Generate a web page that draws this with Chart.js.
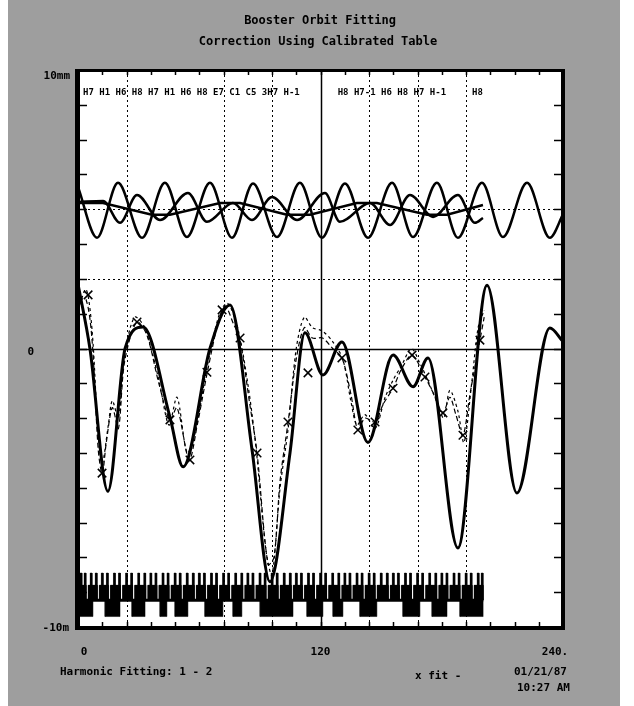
<!DOCTYPE html>
<html>
<head>
<meta charset="utf-8">
<script src="https://cdn.jsdelivr.net/npm/chart.js@4.4.0/dist/chart.umd.min.js"></script>
<style>
  html, body { margin: 0; padding: 0; background: #fff; }
  #bg { position: absolute; left: 8px; top: 0; width: 612px; height: 706px; background: #9e9e9e; }
  #orbit { position: absolute; left: 0; top: 0; }
</style>
</head>
<body>
<div id="bg"></div>
<canvas id="orbit" width="634" height="706"></canvas>
<script>
// fitted orbit (solid, thick)
const fitX = [0, 5.9, 14.8, 23.3, 32.2, 45.5, 52, 65.3, 75.2, 86.1, 95, 104.9, 112.3, 121.2, 130.6, 143.5, 155.9, 165.8, 173.2, 188, 202.4, 217.2, 233.5, 240];
const fitY = [1.85, 0, -4.1, 0, 0.62, -1.97, -3.4, 0, 1.25, -2.9, -6.7, -3.0, 0.45, -0.76, 0.19, -2.7, -0.19, -1.1, -0.27, -5.73, 1.82, -4.15, 0.59, 0.2];

// measured orbit, two dashed traces
const measAX = [0, 4, 7, 10, 12, 14, 17, 20, 23, 29, 34, 40, 45.5, 49, 55, 59, 64, 70, 73, 77, 80, 85, 88.6, 94, 97, 100, 104, 108, 112, 116, 121, 126, 130.6, 135, 138.5, 142, 147, 151, 155.9, 160, 165.3, 171.7, 176, 180.6, 184, 187, 190.5, 194, 198.9, 201];
const measAY = [1.4, 1.4, 0.2, -2.9, -3.6, -2.7, -1.7, -2.3, -0.4, 0.76, 0.4, -1.0, -2.05, -1.7, -3.2, -2.2, -0.68, 0.9, 1.2, 0.7, 0.3, -1.6, -3.0, -6.2, -6.0, -3.8, -2.1, -0.3, 0.6, 0.3, 0.3, 0.0, -0.27, -1.3, -2.34, -2.0, -2.11, -1.6, -1.14, -0.6, -0.19, -0.82, -1.3, -1.85, -1.4, -1.9, -2.49, -1.3, 0.24, 0.9];
const measBX = [0, 4, 7, 10, 12, 15, 17, 20, 23, 28, 33, 40, 45, 49, 54, 58, 64, 70, 74, 79, 84, 88, 93, 96, 100, 104, 108, 112, 116, 121, 126, 131, 135, 138, 142, 147, 152, 156, 160, 165, 169, 173, 178, 181, 184, 188, 191, 195, 198, 201];
const measBY = [1.1, 1.7, 0.5, -2.5, -3.3, -2.2, -1.5, -2.0, -0.2, 0.9, 0.6, -0.9, -2.2, -1.4, -3.0, -2.4, -0.5, 1.0, 1.3, 0.6, -1.0, -2.8, -5.8, -6.5, -4.0, -2.3, 0.0, 0.9, 0.6, 0.5, 0.2, -0.3, -1.5, -2.2, -1.9, -2.3, -1.4, -0.9, -0.5, 0.0, -0.4, -0.9, -1.6, -2.0, -1.2, -1.8, -2.7, -0.9, 0.6, 1.1];

// x markers (monitor readings)
const bpmX = [5.0, 11.9, 29.2, 45.5, 55.4, 63.8, 71.3, 80.2, 88.6, 103.9, 113.8, 130.6, 138.5, 147.0, 155.9, 165.3, 171.7, 180.6, 190.5, 198.9];
const bpmY = [1.54, -3.58, 0.76, -2.05, -3.2, -0.68, 1.11, 0.30, -3.0, -2.11, -0.70, -0.27, -2.34, -2.11, -1.14, -0.19, -0.82, -1.85, -2.49, 0.24];

// upper panel: large sine, small sine, step trace
const sinAX = [0, 9.4, 19.8, 31.7, 43, 53.9, 65.3, 76.2, 86.6, 98.5, 109.8, 120.7, 132.1, 143.5, 155.4, 165.8, 177.6, 188, 199.9, 210.3, 222.2, 233.5, 240];
const sinAY = [4.64, 3.18, 4.76, 3.18, 4.76, 3.2, 4.76, 3.18, 4.74, 3.2, 4.76, 3.18, 4.74, 3.18, 4.76, 3.2, 4.76, 3.18, 4.76, 3.2, 4.76, 3.18, 3.85];
const sinBX = [0, 12.4, 20.8, 29.2, 40.6, 54.4, 63.8, 76.7, 86.1, 96, 108.4, 122.2, 129.6, 144.5, 154.4, 164.3, 175.7, 188, 196.4, 200.4];
const sinBY = [4.21, 4.24, 3.61, 4.41, 3.69, 4.47, 3.64, 4.18, 3.69, 4.35, 3.69, 4.47, 3.64, 4.18, 3.55, 4.41, 3.78, 4.41, 3.61, 3.75];
const stepX = [0, 12.4, 36.6, 45.5, 70.3, 80.2, 103.4, 114.8, 138.0, 147.9, 172.7, 182.6, 200.4];
const stepY = [4.18, 4.18, 3.84, 3.84, 4.18, 4.18, 3.84, 3.84, 4.18, 4.18, 3.84, 3.84, 4.12];

// lattice strip: [start, end, level]
const latBase = -7.23;
const latUpper = [[0.5, 4, -6.8], [5, 9.5, -6.8], [10.5, 15, -6.8], [16, 21, -6.8], [22, 27, -6.8], [28, 33.5, -6.8], [34.5, 39, -6.8], [40, 45, -6.8], [46, 51, -6.8], [52, 57.5, -6.8], [58.5, 63, -6.8], [64, 69, -6.8], [70, 75, -6.8], [76, 81.5, -6.8], [82.5, 87, -6.8], [88, 93, -6.8], [94, 99, -6.8], [100, 105.5, -6.8], [106.5, 111, -6.8], [112, 117, -6.8], [118, 123, -6.8], [124, 129.5, -6.8], [130.5, 135, -6.8], [136, 141, -6.8], [142, 147, -6.8], [148, 153.5, -6.8], [154.5, 159, -6.8], [160, 165, -6.8], [166, 171, -6.8], [172, 177.5, -6.8], [178.5, 183, -6.8], [184, 189, -6.8], [190, 195, -6.8], [196, 200.5, -6.8]];
const latSpikes = [1.5, 3.5, 6.5, 9, 12, 14.5, 18, 20.5, 24, 26.5, 30, 33, 36, 38.5, 42, 44.5, 48, 50.5, 54, 57, 60, 62.5, 66, 68.5, 72, 74.5, 78, 81, 84, 86.5, 90, 92.5, 96, 98.5, 102, 105, 108, 110.5, 114, 116.5, 120, 122.5, 126, 129, 132, 134.5, 138, 140.5, 144, 146.5, 150, 153, 156, 158.5, 162, 164.5, 168, 170.5, 174, 177, 180, 182.5, 186, 188.5, 192, 194.5, 198, 200];
const latLower = [[0.5, 7.4, -7.7], [13.4, 20.8, -7.7], [26.7, 33.2, -7.7], [40.6, 44, -7.7], [48, 54.4, -7.7], [62.8, 71.7, -7.7], [76.7, 81.1, -7.7], [90.1, 106.4, -7.7], [113.3, 121.2, -7.7], [126.2, 131.1, -7.7], [139.5, 147.9, -7.7], [160.8, 169.2, -7.7], [175.2, 182.6, -7.7], [189, 200.5, -7.7]];

// grid
const gridX = [24, 72, 96, 144, 168, 192];
const gridY = [2, 4];
const xTickLabels = [[0, '0'], [120, '120'], [240, '240.']];

const pts = (xs, ys) => xs.map((x, i) => ({x: x, y: ys[i]}));

function blocks(list, base) {
    const out = [];
    list.forEach(b => {
        out.push({x: b[0], y: base}, {x: b[0], y: b[2]}, {x: b[1], y: b[2]}, {x: b[1], y: base}, {x: b[1], y: null});
    });
    return out;
}

const upperAll = latUpper.concat(latSpikes.map(s => [s - 0.45, s + 0.45, -6.45]));

const framePlugin = {
    id: 'frame',
    beforeDatasetsDraw(chart) {
        const {ctx, chartArea: a, scales: {x, y}} = chart;
        ctx.save();
        ctx.fillStyle = '#fff';
        ctx.fillRect(a.left, a.top, a.right - a.left, a.bottom - a.top);
        ctx.strokeStyle = '#000';
        ctx.lineWidth = 1;
        ctx.setLineDash([2, 3]);
        gridX.forEach(v => {
            const px = Math.round(x.getPixelForValue(v)) + 0.5;
            ctx.beginPath(); ctx.moveTo(px, a.top); ctx.lineTo(px, a.bottom); ctx.stroke();
        });
        gridY.forEach(v => {
            const py = Math.round(y.getPixelForValue(v)) + 0.5;
            ctx.beginPath(); ctx.moveTo(a.left, py); ctx.lineTo(a.right, py); ctx.stroke();
        });
        ctx.setLineDash([]);
        ctx.lineWidth = 1.5;
        const cx = Math.round(x.getPixelForValue(120)) + 0.5;
        ctx.beginPath(); ctx.moveTo(cx, a.top); ctx.lineTo(cx, a.bottom); ctx.stroke();
        const cy = Math.round(y.getPixelForValue(0)) + 0.5;
        ctx.beginPath(); ctx.moveTo(a.left, cy); ctx.lineTo(a.right, cy); ctx.stroke();
        // side ticks
        ctx.lineWidth = 1.5;
        for (let v = -7; v <= 7; v++) {
            const py = Math.round(y.getPixelForValue(v)) + 0.5;
            ctx.beginPath(); ctx.moveTo(a.left, py); ctx.lineTo(a.left + 9, py); ctx.stroke();
            ctx.beginPath(); ctx.moveTo(a.right - 9, py); ctx.lineTo(a.right, py); ctx.stroke();
        }
        for (let v = 12; v < 240; v += 12) {
            const px = Math.round(x.getPixelForValue(v)) + 0.5;
            ctx.beginPath(); ctx.moveTo(px, a.bottom); ctx.lineTo(px, a.bottom - 5); ctx.stroke();
            ctx.beginPath(); ctx.moveTo(px, a.top); ctx.lineTo(px, a.top + 5); ctx.stroke();
        }
        // monitor names
        ctx.fillStyle = '#000';
        ctx.font = 'bold 9px "DejaVu Sans Mono"';
        ctx.textBaseline = 'middle';
        ctx.fillText('H7 H1 H6 H8 H7 H1 H6 H8 E7 C1 C5 3H7 H-1', x.getPixelForValue(2.5), 93);
        ctx.fillText('H8 H7-1 H6 H8 H7 H-1', x.getPixelForValue(128.5), 93);
        ctx.fillText('H8', x.getPixelForValue(195), 93);
        ctx.restore();
    },
    afterDatasetsDraw(chart) {
        const {ctx, chartArea: a, scales: {x, y}} = chart;
        ctx.save();
        ctx.fillStyle = '#000';
        ctx.fillRect(a.left - 3, a.top - 1, 5, a.bottom - a.top + 4);
        ctx.fillRect(a.right - 2, a.top - 1, 4, a.bottom - a.top + 4);
        ctx.fillRect(a.left - 3, a.top - 1, a.right - a.left + 5, 3);
        ctx.fillRect(a.left - 3, a.bottom - 1, a.right - a.left + 5, 4);

        ctx.font = 'bold 12px "DejaVu Sans Mono"';
        ctx.textBaseline = 'middle';
        ctx.textAlign = 'center';
        ctx.fillText('Booster Orbit Fitting', 320, 21);
        ctx.fillText('Correction Using Calibrated Table', 318, 42);

        ctx.font = 'bold 11px "DejaVu Sans Mono"';
        ctx.textAlign = 'right';
        ctx.fillText('10mm', 70, 76);
        ctx.fillText('0', 34, 352);
        ctx.fillText('-10m', 69, 628);

        ctx.textAlign = 'center';
        xTickLabels.forEach(t => {
            ctx.fillText(t[1], x.getPixelForValue(t[0]) + (t[0] === 0 ? 6 : (t[0] === 240 ? -8 : 0)), 652);
        });
        ctx.textAlign = 'left';
        ctx.fillText('Harmonic Fitting: 1 - 2', 60, 672);
        ctx.fillText('x fit -', 415, 676);
        ctx.fillText('01/21/87', 514, 672);
        ctx.fillText('10:27 AM', 517, 688);
        ctx.restore();
    }
};

new Chart(document.getElementById('orbit'), {
    type: 'line',
    data: {
        datasets: [
            {
                label: 'lattice upper',
                data: blocks(upperAll, latBase),
                borderColor: '#000', borderWidth: 0.5, backgroundColor: '#000',
                fill: {value: latBase}, pointRadius: 0, spanGaps: false
            },
            {
                label: 'lattice lower',
                data: blocks(latLower, latBase),
                borderColor: '#000', borderWidth: 0.5, backgroundColor: '#000',
                fill: {value: latBase}, pointRadius: 0, spanGaps: false
            },
            {
                label: 'lattice line',
                data: [{x: 0.5, y: latBase}, {x: 200.5, y: latBase}],
                borderColor: '#000', borderWidth: 3, pointRadius: 0
            },
            {
                label: 'sine A',
                data: pts(sinAX, sinAY),
                borderColor: '#000', borderWidth: 2.5, pointRadius: 0, cubicInterpolationMode: 'monotone'
            },
            {
                label: 'sine B',
                data: pts(sinBX, sinBY),
                borderColor: '#000', borderWidth: 2.5, pointRadius: 0, cubicInterpolationMode: 'monotone'
            },
            {
                label: 'step',
                data: pts(stepX, stepY),
                borderColor: '#000', borderWidth: 2.5, pointRadius: 0
            },
            {
                label: 'measured A',
                data: pts(measAX, measAY),
                borderColor: '#000', borderWidth: 1.2, borderDash: [5, 3], pointRadius: 0, tension: 0.3
            },
            {
                label: 'measured B',
                data: pts(measBX, measBY),
                borderColor: '#000', borderWidth: 1.2, borderDash: [3, 3], pointRadius: 0, tension: 0.3
            },
            {
                label: 'fit',
                data: pts(fitX, fitY),
                borderColor: '#000', borderWidth: 3, pointRadius: 0, cubicInterpolationMode: 'monotone'
            },
            {
                label: 'monitors',
                data: pts(bpmX, bpmY),
                showLine: false, pointStyle: 'crossRot', pointRadius: 6,
                borderColor: '#000', borderWidth: 1.5
            }
        ]
    },
    options: {
        responsive: false,
        animation: false,
        events: [],
        layout: {padding: {left: 78, right: 71, top: 70, bottom: 79}},
        scales: {
            x: {type: 'linear', min: 0, max: 240, display: false},
            y: {type: 'linear', min: -8, max: 8, display: false}
        },
        plugins: {
            legend: {display: false},
            tooltip: {enabled: false}
        }
    },
    plugins: [framePlugin]
});
</script>
</body>
</html>
